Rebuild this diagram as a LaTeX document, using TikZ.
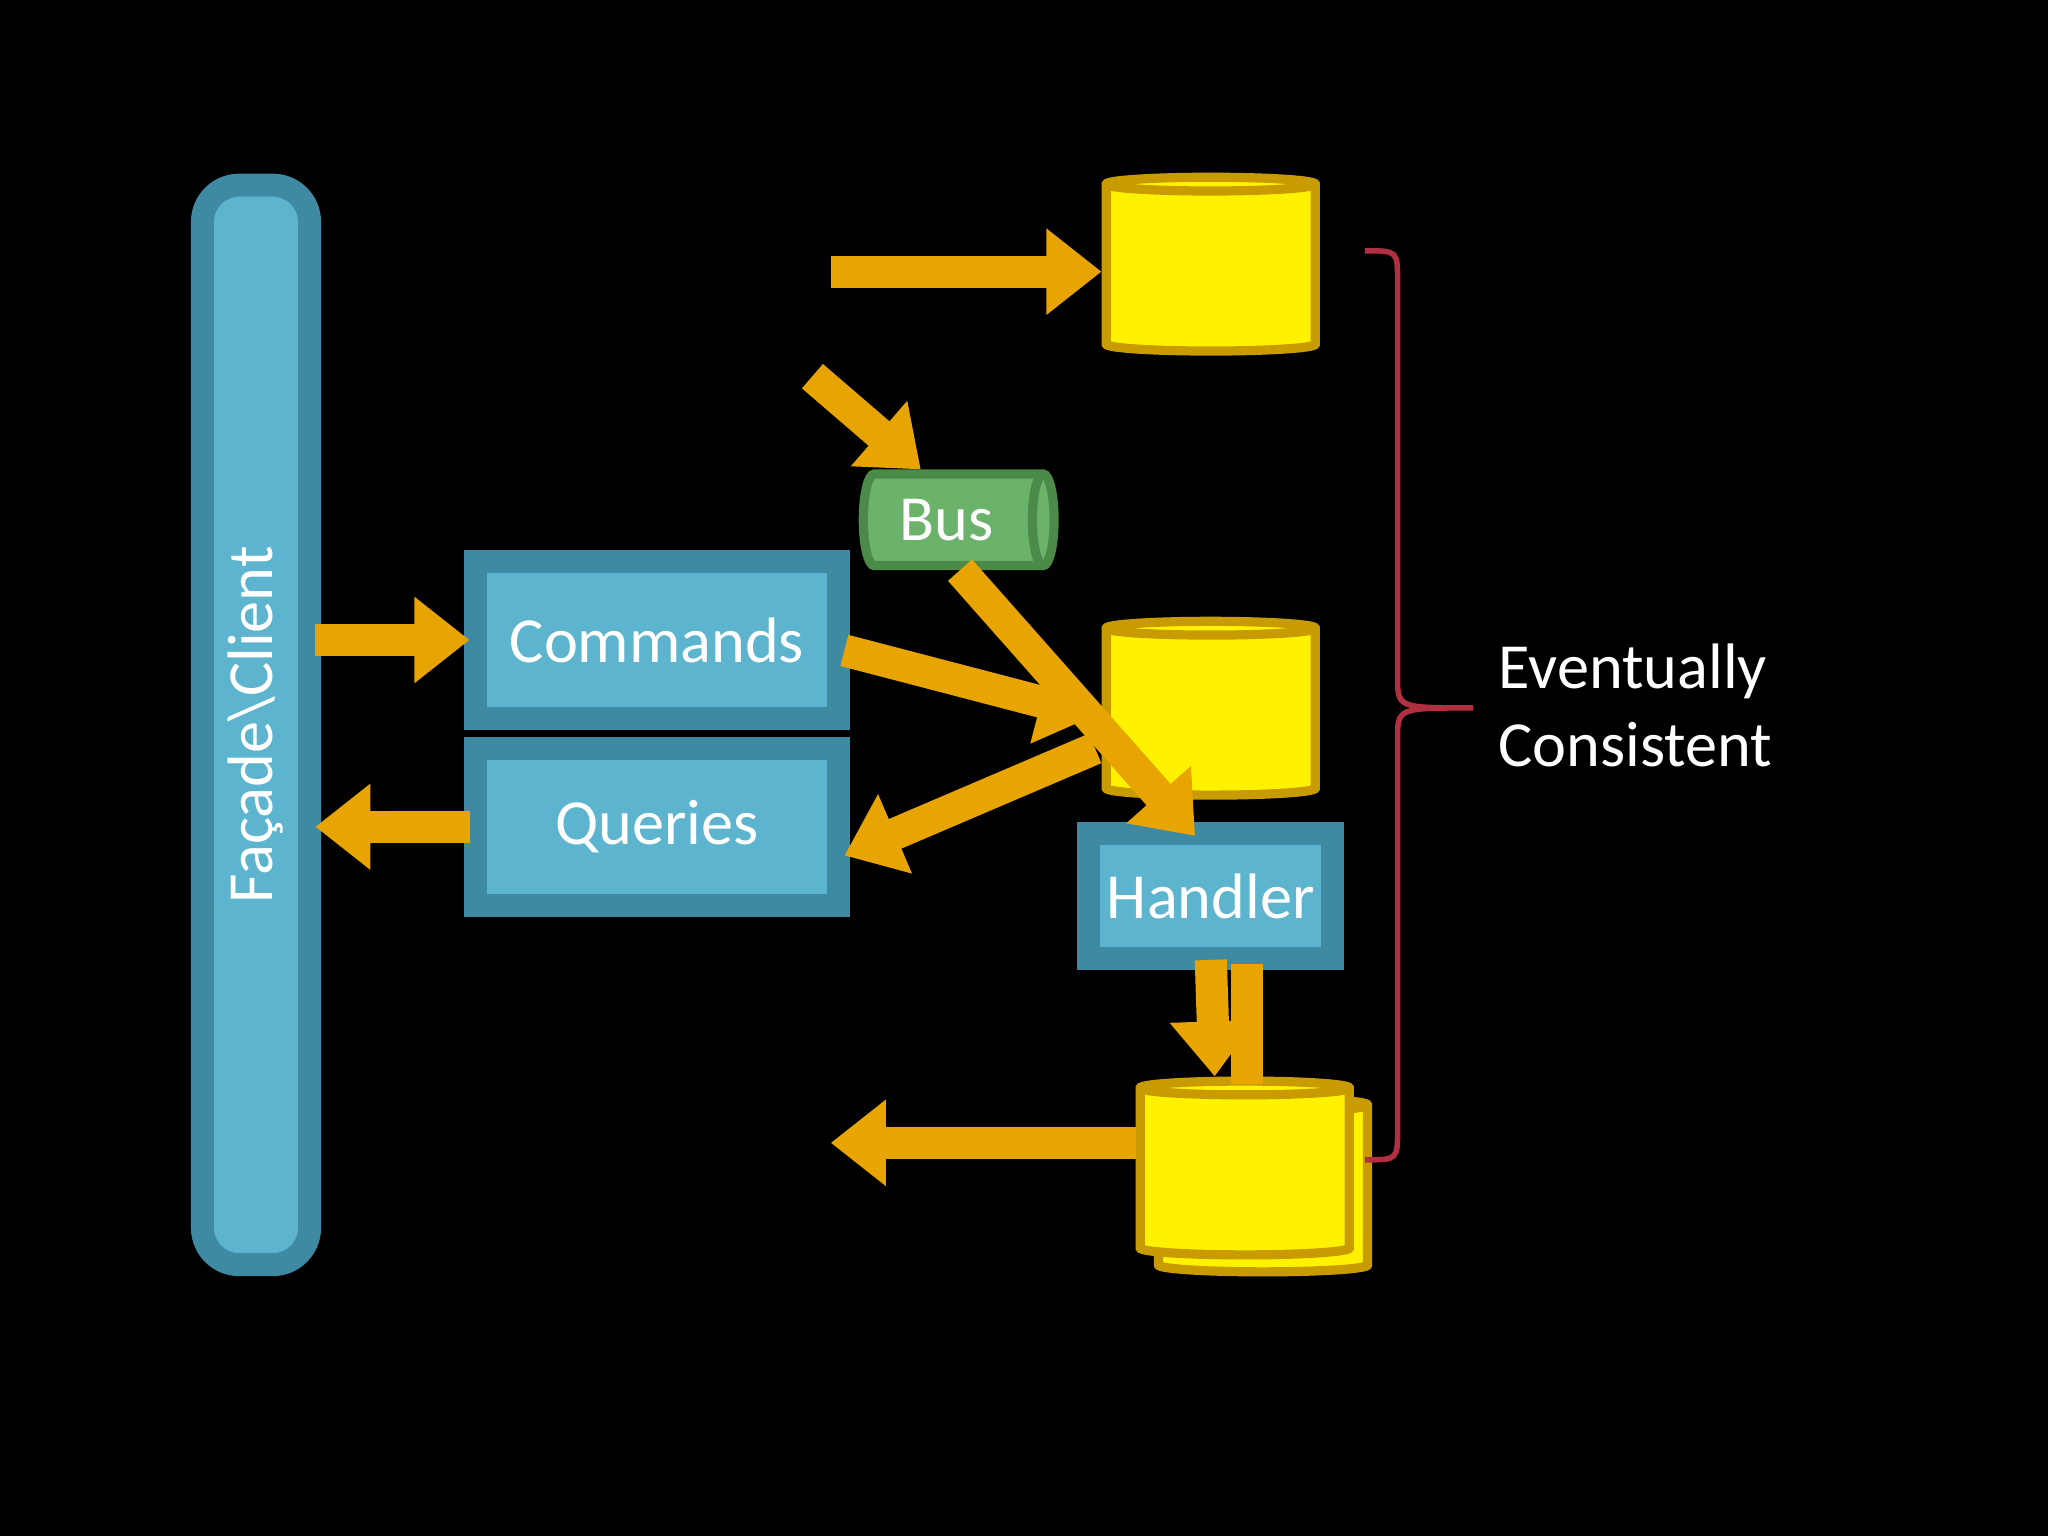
\documentclass[tikz,border=0pt]{standalone}
\usepackage{fontspec}
\setmainfont{Carlito}
\usetikzlibrary{shapes.geometric,arrows.meta}
\definecolor{boxblue}{HTML}{5DB4CE}
\definecolor{boxline}{HTML}{3F8AA3}
\definecolor{busgreen}{HTML}{6BB26A}
\definecolor{busline}{HTML}{4C8A48}
\definecolor{dbline}{HTML}{C89B00}
\definecolor{arrowfill}{HTML}{E8A400}
\definecolor{bracered}{HTML}{B03040}
\begin{document}
\begin{tikzpicture}[x=0.01cm,y=-0.01cm]
	\tikzset{box/.style = {draw=boxline, line width=2.5pt, fill=boxblue, double=boxblue, double distance=0pt, text=white, font=\fontsize{14}{16}\selectfont},
		db/.style = {cylinder, shape border rotate=90, draw=dbline, line width=2pt, fill=yellow, aspect=0.45, minimum width=1.6cm, minimum height=1.33cm, cylinder uses custom fill, cylinder body fill=yellow, cylinder end fill=yellow!90!white},
		flow/.style = {draw=dbline, line width=7pt, -{Triangle[length=12pt,width=18pt]}, arrowfill}}

	\fill[black] (0,0) rectangle (1568,1176);

	\node[box, rounded corners=8pt, minimum width=0.82cm, minimum height=8.26cm] (client) at (196,555) {};
	\node[text=white, rotate=90, font=\fontsize{14}{16}\selectfont] (clientlabel) at (196,555) {Façade\textbackslash Client};
	\node[box, minimum width=2.78cm, minimum height=1.2cm] (commands) at (503,490) {Commands};
	\node[box, minimum width=2.78cm, minimum height=1.2cm] (queries) at (503,633) {Queries};
	\node[box, minimum width=1.87cm, minimum height=0.95cm] (handler) at (927,686) {Handler};
	\node[cylinder, draw=busline, line width=2pt, fill=busgreen, aspect=0.3, minimum width=0.7cm, minimum height=1.46cm, text=white, font=\fontsize{14}{16}\selectfont, cylinder uses custom fill, cylinder body fill=busgreen, cylinder end fill=busgreen!70!white] (bus) at (725,398) {Bus};

	\node[db] (readA) at (927,208) {};
	\node[db] (readB) at (927,548) {};
	\node[db] (storeback) at (967,913) {};
	\node[db] (store) at (953,900) {};

	\coordinate (inA) at (636,208);
	\coordinate (inBus) at (622,288);
	\coordinate (outStore) at (636,875);

	\draw[flow] (client.east |- commands) -- (commands.west);
	\draw[flow] (queries.west) -- (client.east |- queries);
	\draw[flow] (inA) -- (readA.west);
	\draw[flow] (inBus) -- (bus.north -| 705,0);
	\draw[flow] (commands.east) ++(0,8) -- (838,548);
	\draw[flow] (readB.west) ++(-5,25) -- (queries.east |- 0,655);
	\draw[flow] (bus.south) ++(10,0) -- (915,640);
	\draw[flow] (handler.south) ++(0,-3) -- (store.north -| 930,0);
	\draw[draw=dbline, line width=7pt, arrowfill] (handler.south -| 955,0) -- (955,830);
	\draw[flow] (store.west |- outStore) -- (outStore);

	\draw[bracered, line width=1.2pt] (1045,192) .. controls (1070,192) .. (1070,215) -- (1070,518) .. controls (1070,542) .. (1128,542)
		.. controls (1070,542) .. (1070,566) -- (1070,865) .. controls (1070,888) .. (1045,888);
	\node[text=white, align=left, anchor=west, font=\fontsize{14}{17}\selectfont] (consistent) at (1135,540) {Eventually\\Consistent};
\end{tikzpicture}
\end{document}
